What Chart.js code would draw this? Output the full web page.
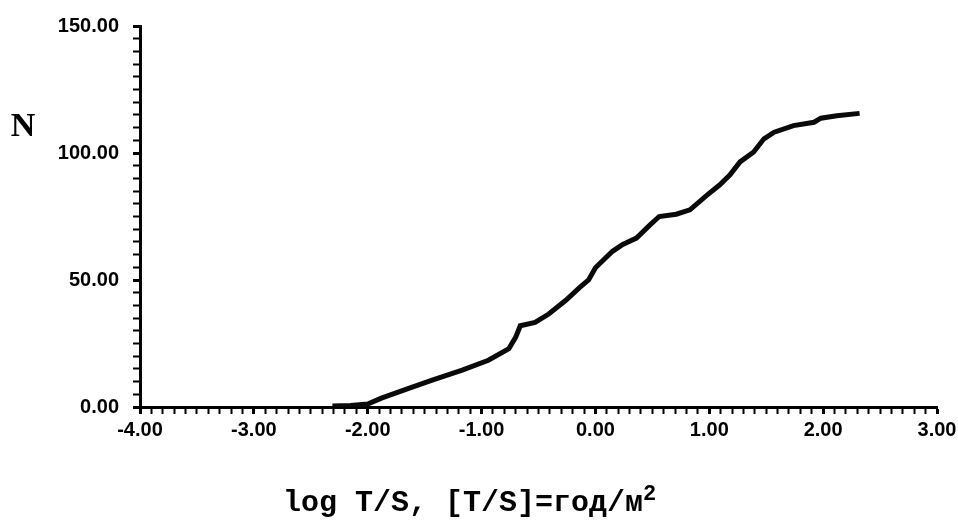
<!DOCTYPE html>
<html lang="ru">
<head>
    <meta charset="UTF-8">
    <title>N vs log T/S</title>
    <script src="https://cdn.jsdelivr.net/npm/chart.js"></script>
    <style>
        html, body {
            margin: 0;
            padding: 0;
            background-color: #ffffff;
        }
        .chart-box {
            position: relative;
            width: 958px;
            height: 523px;
        }
    </style>
</head>
<body>
    <div class="chart-box">
        <canvas id="curve-chart"></canvas>
    </div>
    <script>
        // values
        const logTS = [-2.31, -2.15, -2.00, -1.88, -1.64, -1.44, -1.17, -0.94, -0.76, -0.70,
                       -0.66, -0.53, -0.41, -0.26, -0.14, -0.06, 0.00, 0.15, 0.24, 0.36,
                       0.48, 0.56, 0.71, 0.83, 0.98, 1.09, 1.18, 1.27, 1.39, 1.48,
                       1.57, 1.74, 1.92, 1.98, 2.12, 2.32];
        const countN = [0.4, 0.6, 1.2, 3.5, 7.3, 10.5, 14.5, 18.4, 23.0, 27.5,
                        32.0, 33.3, 36.6, 42.0, 47.0, 50.0, 54.8, 61.3, 64.0, 66.5,
                        71.7, 75.0, 75.9, 77.6, 83.4, 87.4, 91.3, 96.5, 100.4, 105.6,
                        108.2, 110.8, 112.1, 113.7, 114.7, 115.6];
        const xMajorTicks = [-4, -3, -2, -1, 0, 1, 2, 3];
        const yMajorTicks = [0, 50, 100, 150];
        const yAxisLabel = 'N';
        const xAxisLabel = 'log T/S, [T/S]=год/м';
        const xAxisLabelSup = '2';

        const tickFont = { family: "'Liberation Sans', Arial, sans-serif", size: 20, weight: 'bold' };

        function isMajor(list, v) {
            return list.some(m => Math.abs(m - v) < 1e-6);
        }

        // axis names are drawn by hand: "N" is upright, title sits left of centre
        const axisNames = {
            id: 'axisNames',
            afterDraw(chart) {
                const ctx = chart.ctx;
                const area = chart.chartArea;
                ctx.save();
                ctx.fillStyle = '#000';
                ctx.textBaseline = 'alphabetic';
                ctx.font = "bold 34px 'Liberation Serif', serif";
                ctx.textAlign = 'center';
                ctx.fillText(yAxisLabel, area.left - 117, area.top + 110);

                ctx.font = "bold 30px 'Liberation Mono', 'Courier New', monospace";
                ctx.textAlign = 'left';
                const tx = area.left + 143;
                const ty = area.bottom + 104;
                ctx.fillText(xAxisLabel, tx, ty);
                const w = ctx.measureText(xAxisLabel).width;
                ctx.font = "bold 22px 'Liberation Mono', 'Courier New', monospace";
                ctx.fillText(xAxisLabelSup, tx + w, ty - 11);
                ctx.restore();
            }
        };

        const ctx = document.getElementById('curve-chart').getContext('2d');
        new Chart(ctx, {
            type: 'scatter',
            data: {
                datasets: [{
                    data: logTS.map((x, i) => ({ x: x, y: countN[i] })),
                    showLine: true,
                    borderColor: '#0a0a0a',
                    borderWidth: 5,
                    pointRadius: 0,
                    tension: 0
                }]
            },
            options: {
                responsive: true,
                maintainAspectRatio: false,
                animation: false,
                layout: {
                    padding: { top: 23, right: 21, bottom: 0, left: 0 }
                },
                plugins: {
                    legend: { display: false },
                    tooltip: { enabled: false }
                },
                scales: {
                    x: {
                        type: 'linear',
                        min: -4,
                        max: 3,
                        border: { display: true, color: '#000', width: 3 },
                        grid: {
                            drawOnChartArea: false,
                            drawTicks: true,
                            tickLength: 7,
                            tickColor: '#000',
                            tickWidth: c => isMajor(xMajorTicks, c.tick.value) ? 3 : 2
                        },
                        ticks: {
                            stepSize: 0.1,
                            autoSkip: false,
                            maxRotation: 0,
                            padding: 4,
                            color: '#000',
                            font: tickFont,
                            callback: v => isMajor(xMajorTicks, v) ? v.toFixed(2) : ''
                        },
                        afterFit(scale) {
                            scale.height = 116;
                            scale.paddingLeft = 0;
                            scale.paddingRight = 0;
                        }
                    },
                    y: {
                        min: 0,
                        max: 150,
                        border: { display: true, color: '#000', width: 3 },
                        grid: {
                            drawOnChartArea: false,
                            drawTicks: true,
                            tickLength: 7,
                            tickColor: '#000',
                            tickWidth: c => isMajor(yMajorTicks, c.tick.value) ? 3 : 2
                        },
                        ticks: {
                            stepSize: 5,
                            autoSkip: false,
                            padding: 14,
                            color: '#000',
                            font: tickFont,
                            callback: v => isMajor(yMajorTicks, v) ? v.toFixed(2) : ''
                        },
                        afterFit(scale) {
                            scale.width = 140;
                        }
                    }
                }
            },
            plugins: [axisNames]
        });
    </script>
</body>
</html>
